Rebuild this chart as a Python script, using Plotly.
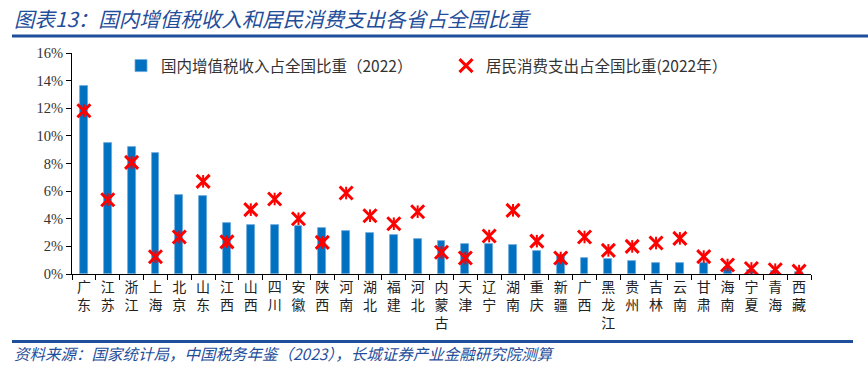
import plotly.graph_objects as go

provinces = ["广东", "江苏", "浙江", "上海", "北京", "山东", "江西", "山西", "四川", "安徽",
             "陕西", "河南", "湖北", "福建", "河北", "内蒙古", "天津", "辽宁", "湖南", "重庆",
             "新疆", "广西", "黑龙江", "贵州", "吉林", "云南", "甘肃", "海南", "宁夏", "青海", "西藏"]
vat_share = [13.6, 9.45, 9.2, 8.75, 5.7, 5.67, 3.71, 3.57, 3.57, 3.46,
             3.36, 3.14, 2.99, 2.82, 2.56, 2.41, 2.19, 2.19, 2.12, 1.67,
             1.4, 1.16, 1.12, 0.94, 0.81, 0.81, 0.80, 0.43, 0.3, 0.2, 0.12]
consumption_share = [11.82, 5.38, 8.08, 1.25, 2.68, 6.71, 2.33, 4.66, 5.43, 4.0,
                     2.29, 5.86, 4.22, 3.64, 4.51, 1.57, 1.16, 2.75, 4.61, 2.38,
                     1.16, 2.68, 1.71, 2.0, 2.24, 2.58, 1.26, 0.65, 0.4, 0.31, 0.21]
y_ticks = [0, 2, 4, 6, 8, 10, 12, 14, 16]

title_text = "图表13：国内增值税收入和居民消费支出各省占全国比重"
source_text = "资料来源：国家统计局，中国税务年鉴（2023），长城证券产业金融研究院测算"
vat_name = "国内增值税收入占全国比重（2022）"
cons_name = "居民消费支出占全国比重(2022年）"

tick_labels = ["<br>".join(list(p)) for p in provinces]

W, H = 868, 371
L, R, T, B = 72, 57, 53, 97
pw, ph = W - L - R, H - T - B


def px_x(x):
    return (x - L) / pw


def px_y(y):
    return (H - B - y) / ph


fig = go.Figure()
fig.add_trace(go.Bar(
    x=provinces, y=vat_share, name=vat_name, width=0.33,
    marker=dict(color="#0070C0", line=dict(color="#6FA8DC", width=0.8)),
))
fig.add_trace(go.Scatter(
    x=provinces, y=consumption_share, name=cons_name, mode="markers",
    marker=dict(symbol="x-thin", size=13, color="#FF0000",
                line=dict(color="#FF0000", width=3)),
))
fig.add_trace(go.Scatter(
    x=provinces, y=consumption_share, mode="markers", showlegend=False,
    marker=dict(symbol="line-ns", size=9, color="#FF0000",
                line=dict(color="#FF0000", width=2)),
))

blue = "#1F4E9A"
fig.update_layout(
    width=W, height=H,
    margin=dict(l=L, r=R, t=T, b=B),
    paper_bgcolor="white", plot_bgcolor="white",
    font=dict(family="Noto Sans CJK SC", color="#222"),
    showlegend=True,
    legend=dict(
        orientation="h", x=px_x(121), y=px_y(66), xanchor="left", yanchor="middle",
        font=dict(size=15.5, color="#333", family="Noto Sans CJK SC"),
        entrywidth=280, entrywidthmode="pixels",
        bgcolor="rgba(0,0,0,0)", itemwidth=30,
    ),
    bargap=0.0,
    xaxis=dict(
        type="category", categoryorder="array", categoryarray=provinces,
        tickmode="array", tickvals=provinces, ticktext=tick_labels,
        tickfont=dict(size=14, color="#222", family="Noto Sans CJK SC"),
        showline=True, linecolor="#000", linewidth=1,
        ticks="outside", tickson="boundaries", ticklen=5, tickcolor="#000",
        showgrid=False, zeroline=False, tickangle=0,
        range=[-0.5, len(provinces) - 0.5],
    ),
    yaxis=dict(
        range=[0, 16], tickmode="array", tickvals=y_ticks,
        ticktext=[f"{v}%" for v in y_ticks],
        tickfont=dict(size=14.5, color="#333", family="Liberation Serif"),
        showline=True, linecolor="#000", linewidth=1,
        ticks="outside", ticklen=5, tickcolor="#000",
        showgrid=False, zeroline=False,
    ),
    shapes=[
        dict(type="line", xref="paper", yref="paper",
             x0=px_x(12), x1=px_x(868), y0=px_y(36), y1=px_y(36),
             line=dict(color=blue, width=3)),
        dict(type="line", xref="paper", yref="paper",
             x0=px_x(12), x1=px_x(853), y0=px_y(341.5), y1=px_y(341.5),
             line=dict(color=blue, width=3)),
    ],
    annotations=[
        dict(text=f"<i>{title_text}</i>", xref="paper", yref="paper",
             x=px_x(12), y=px_y(18), xanchor="left", yanchor="middle",
             showarrow=False, font=dict(size=20.5, color=blue, family="Noto Sans CJK SC")),
        dict(text=f"<i>{source_text}</i>", xref="paper", yref="paper",
             x=px_x(12), y=px_y(353), xanchor="left", yanchor="middle",
             showarrow=False, font=dict(size=15.5, color=blue, family="Noto Sans CJK SC")),
    ],
)

fig.write_html(
    "out.html",
    config={"displayModeBar": False},
    post_script="document.body.style.margin='0px';document.body.style.overflow='hidden';",
)
